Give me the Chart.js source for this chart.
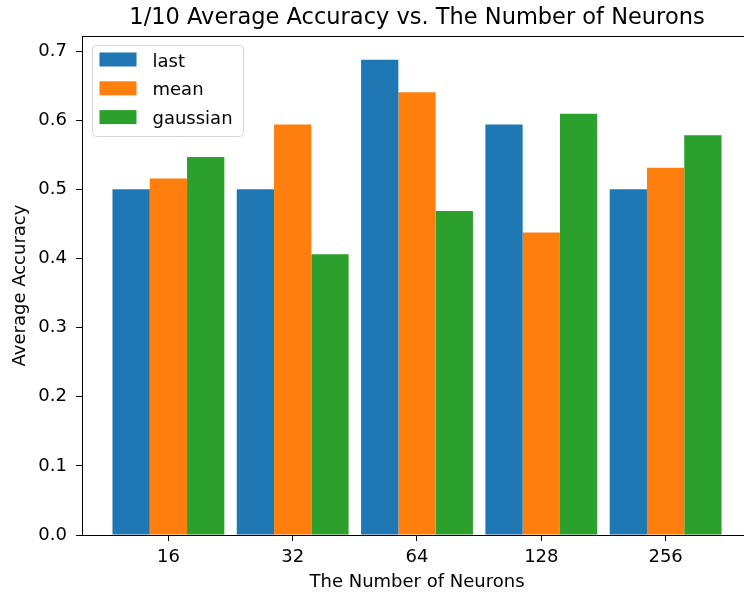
<!DOCTYPE html>
<html>
<head>
<meta charset="utf-8">
<title>Average Accuracy vs. The Number of Neurons</title>
<script src="https://cdn.jsdelivr.net/npm/chart.js@4/dist/chart.umd.min.js"></script>
<style>
    html, body { margin: 0; padding: 0; background: #ffffff; overflow: hidden; }
    #myChart { display: block; }
</style>
</head>
<body>
<canvas id="myChart" width="760" height="596"></canvas>
<script>
'use strict';

var neurons = ['16', '32', '64', '128', '256'];
var lastValues = [0.5, 0.5, 0.6875, 0.59375, 0.5];
var meanValues = [0.515625, 0.59375, 0.640625, 0.4375, 0.53125];
var gaussianValues = [0.546875, 0.40625, 0.46875, 0.609375, 0.578125];
var yTicks = [0.0, 0.1, 0.2, 0.3, 0.4, 0.5, 0.6, 0.7];

var chartTitle = '1/10 Average Accuracy vs. The Number of Neurons';
var fontFamily = "'DejaVu Sans', 'Liberation Sans', sans-serif";

function ToPoints(values) {
    var points = [];
    for (var i = 0; i < values.length; i++) {
        points.push({ x: i, y: values[i] });
    }
    return points;
}

// Draw the title, top spine and legend the way matplotlib places them
var framePlugin = {
    id: 'frame',
    afterDraw: function (chart) {
        var ctx = chart.ctx;
        var area = chart.chartArea;

        ctx.save();

        // Top spine
        ctx.strokeStyle = '#000000';
        ctx.lineWidth = 1;
        ctx.beginPath();
        ctx.moveTo(area.left, area.top + 0.5);
        ctx.lineTo(area.right, area.top + 0.5);
        ctx.stroke();

        // Title
        ctx.fillStyle = '#000000';
        ctx.font = '22.5px ' + fontFamily;
        ctx.textAlign = 'center';
        ctx.textBaseline = 'alphabetic';
        ctx.fillText(chartTitle, (area.left + area.right) / 2, 23.5);

        // Legend box
        var boxX = 92.5, boxY = 45.5, boxW = 151, boxH = 91, r = 4;
        ctx.beginPath();
        ctx.moveTo(boxX + r, boxY);
        ctx.arcTo(boxX + boxW, boxY, boxX + boxW, boxY + boxH, r);
        ctx.arcTo(boxX + boxW, boxY + boxH, boxX, boxY + boxH, r);
        ctx.arcTo(boxX, boxY + boxH, boxX, boxY, r);
        ctx.arcTo(boxX, boxY, boxX + boxW, boxY, r);
        ctx.closePath();
        ctx.fillStyle = 'rgba(255, 255, 255, 0.8)';
        ctx.fill();
        ctx.strokeStyle = '#d6d6d6';
        ctx.stroke();

        ctx.font = '18px ' + fontFamily;
        ctx.textAlign = 'left';
        var datasets = chart.data.datasets;
        for (var i = 0; i < datasets.length; i++) {
            var top = 52.5 + i * 28.8;
            ctx.fillStyle = datasets[i].backgroundColor;
            ctx.fillRect(99.5, top, 37, 14);
            ctx.fillStyle = '#000000';
            ctx.fillText(datasets[i].label, 152.5, top + 14);
        }

        ctx.restore();
    }
};

var chart = new Chart(document.getElementById('myChart'), {
    type: 'bar',
    data: {
        datasets: [
            { label: 'last', data: ToPoints(lastValues), backgroundColor: '#1f77b4' },
            { label: 'mean', data: ToPoints(meanValues), backgroundColor: '#ff7f0e' },
            { label: 'gaussian', data: ToPoints(gaussianValues), backgroundColor: '#2ca02c' }
        ]
    },
    options: {
        responsive: false,
        animation: false,
        categoryPercentage: 0.9,
        barPercentage: 1.0,
        layout: {
            padding: { top: 36, right: 8, left: 0, bottom: 0 }
        },
        plugins: {
            legend: { display: false },
            tooltip: { enabled: false }
        },
        scales: {
            x: {
                type: 'linear',
                offset: false,
                min: -0.695,
                max: 4.695,
                afterBuildTicks: function (scale) {
                    scale.ticks = neurons.map(function (n, i) {
                        return { value: i };
                    });
                },
                afterFit: function (scale) {
                    scale.height = 61;
                },
                ticks: {
                    autoSkip: false,
                    maxRotation: 0,
                    padding: 5.5,
                    color: '#000000',
                    font: { family: fontFamily, size: 18 },
                    callback: function (value) {
                        return neurons[value];
                    }
                },
                grid: {
                    offset: false,
                    drawOnChartArea: false,
                    drawTicks: true,
                    tickLength: 6,
                    color: '#000000'
                },
                border: { display: true, color: '#000000', width: 1 },
                title: {
                    display: true,
                    text: 'The Number of Neurons',
                    color: '#000000',
                    font: { family: fontFamily, size: 18 },
                    padding: { top: 0, bottom: 3 }
                }
            },
            y: {
                min: 0,
                max: 0.721875,
                afterBuildTicks: function (scale) {
                    scale.ticks = yTicks.map(function (v) {
                        return { value: v };
                    });
                },
                afterFit: function (scale) {
                    scale.width = 82;
                },
                ticks: {
                    padding: 9,
                    color: '#000000',
                    font: { family: fontFamily, size: 18 },
                    callback: function (value) {
                        return value.toFixed(1);
                    }
                },
                grid: {
                    drawOnChartArea: false,
                    drawTicks: true,
                    tickLength: 6,
                    color: '#000000'
                },
                border: { display: true, color: '#000000', width: 1 },
                title: {
                    display: true,
                    text: 'Average Accuracy',
                    color: '#000000',
                    font: { family: fontFamily, size: 18 },
                    padding: { top: 10, bottom: 0 }
                }
            }
        }
    },
    plugins: [framePlugin]
});
</script>
</body>
</html>
